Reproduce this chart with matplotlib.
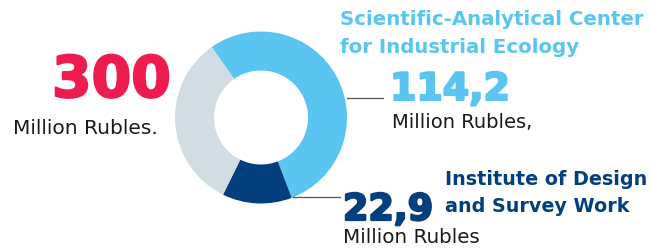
import matplotlib
matplotlib.use("Agg")
import matplotlib.pyplot as plt
import matplotlib.patheffects as pe

# Data
segment_names = ["Scientific-Analytical Center for Industrial Ecology",
                 "Institute of Design and Survey Work", "Other"]
segment_shares = [53.9, 13.1, 33.0]   # visual share of ring (%)
total_label = "300"
value_labels = ["114,2", "22,9"]
unit_label = "Million Rubles"

C_RED = "#EE1C4E"
C_BLUE = "#5BC5F1"
C_NAVY = "#033F7E"
C_GRAY = "#D2DCE3"
C_TXT = "#1a1a1a"

W, H = 652, 248
fig = plt.figure(figsize=(W / 100, H / 100), dpi=100)
ax = fig.add_axes([0, 0, 1, 1])

def Y(py):
    return H - py

ax.pie(segment_shares, colors=[C_BLUE, C_NAVY, C_GRAY], startangle=125,
       counterclock=False, center=(261, Y(117.5)), radius=86,
       wedgeprops=dict(width=39, linewidth=0))
ax.set_xlim(0, W)
ax.set_ylim(0, H)
ax.set_aspect("equal")
ax.axis("off")

# leader lines
ax.plot([347, 383], [Y(98), Y(98)], color="#555555", lw=0.9)
ax.plot([293, 340], [Y(196.5), Y(196.5)], color="#555555", lw=0.9)

F = "DejaVu Sans"

def heavy(c):
    return [pe.withStroke(linewidth=1.6, foreground=c)]

# total
ax.text(52, Y(97), total_label, color=C_RED, fontsize=41, fontweight="heavy",
        family=F, va="baseline", ha="left", path_effects=heavy(C_RED))
ax.text(13, Y(134), unit_label + ".", color=C_TXT, fontsize=14.5,
        family=F, va="baseline", ha="left")
# blue
ax.text(340, Y(25), "Scientific-Analytical Center", color=C_BLUE, fontsize=14.2,
        fontweight="bold", family=F, va="baseline", ha="left")
ax.text(340, Y(53), "for Industrial Ecology", color=C_BLUE, fontsize=14.2,
        fontweight="bold", family=F, va="baseline", ha="left")
ax.text(390, Y(100), value_labels[0], color=C_BLUE, fontsize=27.3, fontweight="heavy",
        family=F, va="baseline", ha="left", path_effects=heavy(C_BLUE))
ax.text(392, Y(128), unit_label + ",", color=C_TXT, fontsize=14,
        family=F, va="baseline", ha="left")
# navy
ax.text(445, Y(185), "Institute of Design", color=C_NAVY, fontsize=13.8,
        fontweight="bold", family=F, va="baseline", ha="left")
ax.text(445, Y(212), "and Survey Work", color=C_NAVY, fontsize=13.8,
        fontweight="bold", family=F, va="baseline", ha="left")
ax.text(343, Y(220), value_labels[1], color=C_NAVY, fontsize=26.3, fontweight="heavy",
        family=F, va="baseline", ha="left", path_effects=heavy(C_NAVY))
ax.text(343, Y(243), unit_label, color=C_TXT, fontsize=14.3,
        family=F, va="baseline", ha="left")

fig.savefig("out.png", dpi=100)
